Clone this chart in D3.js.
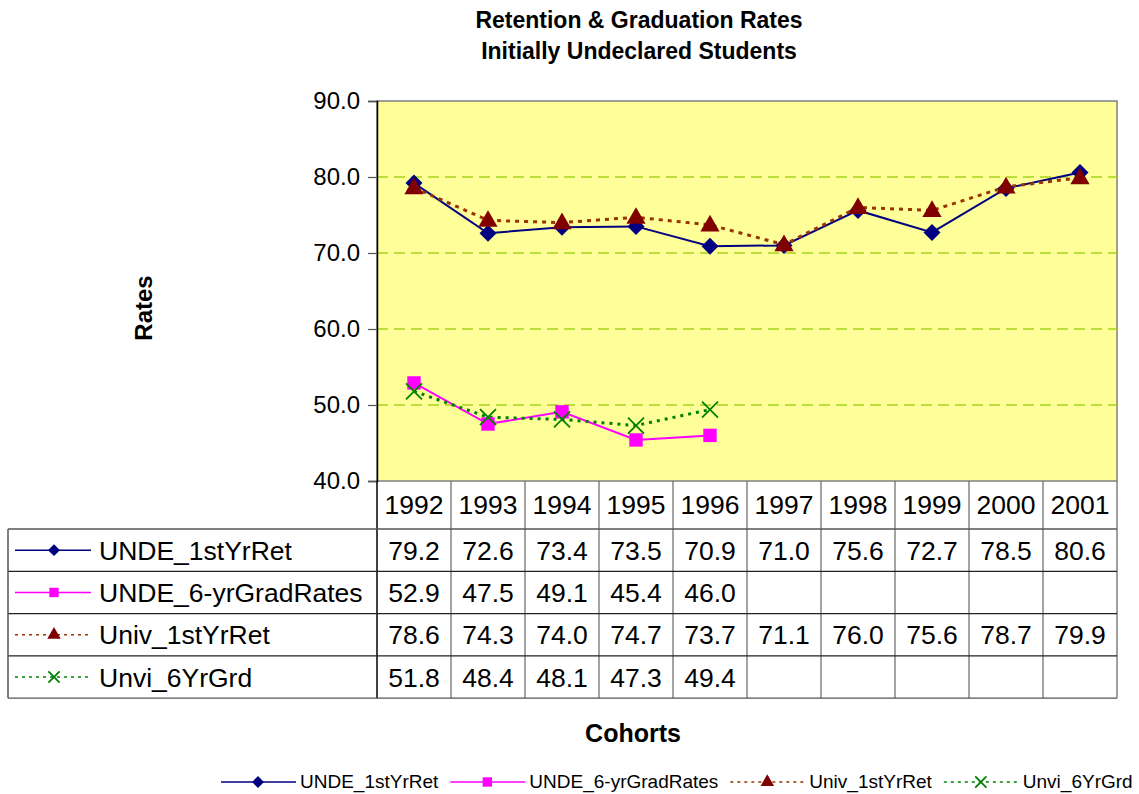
<!DOCTYPE html>
<html>
<head>
<meta charset="utf-8">
<script src="https://cdn.jsdelivr.net/npm/d3@7"></script>
<style>
  body { margin: 0; background: #fff; }
  svg { display: block; font-family: "Liberation Sans", Arial, sans-serif; }
</style>
</head>
<body>
<svg id="chart" width="1139" height="794"></svg>
<script>
/* data */
const cohorts = ['1992','1993','1994','1995','1996','1997','1998','1999','2000','2001'];
const undeRet  = [79.2, 72.6, 73.4, 73.5, 70.9, 71.0, 75.6, 72.7, 78.5, 80.6];
const undeGrad = [52.9, 47.5, 49.1, 45.4, 46.0, null, null, null, null, null];
const univRet  = [78.6, 74.3, 74.0, 74.7, 73.7, 71.1, 76.0, 75.6, 78.7, 79.9];
const univGrad = [51.8, 48.4, 48.1, 47.3, 49.4, null, null, null, null, null];
const yTicks = [40, 50, 60, 70, 80, 90];

const series = [
  { name: 'UNDE_1stYrRet',       values: undeRet,  line: '#000080', mark: '#000080', dash: null,  sym: 'diamond',         size: 8.5 },
  { name: 'UNDE_6-yrGradRates',  values: undeGrad, line: '#FF00FF', mark: '#FF00FF', dash: null,  sym: d3.symbolSquare,   size: 180 },
  { name: 'Univ_1stYrRet',       values: univRet,  line: '#993300', mark: '#800000', dash: '4,5', sym: d3.symbolTriangle, size: 160 },
  { name: 'Unvi_6YrGrd',         values: univGrad, line: '#008000', mark: '#008000', dash: '3,5', sym: 'x',              size: 8 }
];

const svg = d3.select('#chart');
const plot = { l: 377, r: 1117, t: 101, b: 481 };
const tableL = 8, rowH = 42.3, headB = 529;

const x = d3.scaleBand().domain(cohorts).range([plot.l, plot.r]);
const y = d3.scaleLinear().domain([40, 90]).range([plot.b, plot.t]);

/* titles */
const title = svg.append('g').attr('font-weight', 'bold').attr('font-size', 23).attr('text-anchor', 'middle');
title.append('text').attr('x', 639).attr('y', 28).text('Retention & Graduation Rates');
title.append('text').attr('x', 639).attr('y', 59).text('Initially Undeclared Students');

svg.append('text').attr('transform', 'translate(152,308) rotate(-90)')
  .attr('text-anchor', 'middle').attr('font-weight', 'bold').attr('font-size', 24).text('Rates');
svg.append('text').attr('x', 633).attr('y', 742)
  .attr('text-anchor', 'middle').attr('font-weight', 'bold').attr('font-size', 25).text('Cohorts');

/* plot area */
svg.append('rect').attr('x', plot.l).attr('y', plot.t)
  .attr('width', plot.r - plot.l).attr('height', plot.b - plot.t)
  .attr('fill', '#FFFF99').attr('stroke', '#808080').attr('stroke-width', 1.5);

svg.append('g').selectAll('line').data(yTicks.filter(t => t > 40 && t < 90)).join('line')
  .attr('x1', plot.l).attr('x2', plot.r).attr('y1', d => y(d)).attr('y2', d => y(d))
  .attr('stroke', '#A6D41C').attr('stroke-width', 1.5).attr('stroke-dasharray', '11,6');

/* y axis */
const yAxis = svg.append('g').attr('transform', `translate(${plot.l},0)`)
  .call(d3.axisLeft(y).tickValues(yTicks).tickFormat(d3.format('.1f')).tickSize(9).tickPadding(8));
yAxis.select('.domain').attr('stroke', '#000').attr('stroke-width', 1.5);
yAxis.selectAll('.tick line').attr('stroke', '#555').attr('stroke-width', 1.2);
yAxis.selectAll('.tick text').attr('font-size', 24).attr('fill', '#000')
  .attr('font-family', '"Liberation Sans", Arial, sans-serif');

/* lines + markers */
const line = d3.line().defined(d => d.v != null).x(d => x(d.c) + x.bandwidth() / 2).y(d => y(d.v));
function marker(sel, s, scale) {
  if (s.sym === 'x') {
    const h = s.size * scale;
    sel.append('path').attr('d', `M${-h},${-h}L${h},${h}M${-h},${h}L${h},${-h}`)
      .attr('stroke', s.mark).attr('stroke-width', 1.8).attr('fill', 'none');
  } else if (s.sym === 'diamond') {
    const h = s.size * scale;
    sel.append('path').attr('d', `M0,${-h}L${h},0L0,${h}L${-h},0Z`).attr('fill', s.mark);
  } else {
    sel.append('path').attr('d', d3.symbol(s.sym, s.size * scale * scale)()).attr('fill', s.mark);
  }
}

series.forEach(s => {
  const pts = cohorts.map((c, i) => ({ c, v: s.values[i] }));
  svg.append('path').datum(pts).attr('d', line).attr('fill', 'none')
    .attr('stroke', s.line).attr('stroke-width', s.dash ? 3 : 2)
    .attr('stroke-dasharray', s.dash);
});
series.forEach(s => {
  const pts = cohorts.map((c, i) => ({ c, v: s.values[i] })).filter(d => d.v != null);
  svg.append('g').selectAll('g').data(pts).join('g')
    .attr('transform', d => `translate(${x(d.c) + x.bandwidth() / 2},${y(d.v) + (s.sym === d3.symbolTriangle ? 1 : 0)})`)
    .each(function () { marker(d3.select(this), s, 1); });
});

/* data table */
const tbl = svg.append('g').attr('font-size', 26.5);
const tableB = headB + rowH * series.length;
// header row of cohorts
tbl.selectAll('.hd').data(cohorts).join('text').attr('class', 'hd')
  .attr('x', d => x(d) + x.bandwidth() / 2).attr('y', 514)
  .attr('text-anchor', 'middle').text(d => d);
// vertical column lines
tbl.selectAll('.vl').data(cohorts.slice(1)).join('line').attr('class', 'vl')
  .attr('x1', d => x(d)).attr('x2', d => x(d)).attr('y1', plot.b).attr('y2', tableB)
  .attr('stroke', '#666').attr('stroke-width', 1.2);
tbl.append('line').attr('x1', plot.l).attr('x2', plot.l).attr('y1', plot.b).attr('y2', tableB)
  .attr('stroke', '#000').attr('stroke-width', 1.5);
tbl.append('line').attr('x1', plot.r).attr('x2', plot.r).attr('y1', plot.b).attr('y2', tableB)
  .attr('stroke', '#808080').attr('stroke-width', 1.5);
// horizontal row lines
tbl.selectAll('.hl').data(d3.range(series.length + 1)).join('line').attr('class', 'hl')
  .attr('x1', tableL).attr('x2', plot.r)
  .attr('y1', i => headB + i * rowH).attr('y2', i => headB + i * rowH)
  .attr('stroke', i => (i === 0 || i === series.length) ? '#555' : '#222').attr('stroke-width', 1.3);
tbl.append('line').attr('x1', tableL).attr('x2', tableL).attr('y1', headB).attr('y2', tableB)
  .attr('stroke', '#555').attr('stroke-width', 1.5);

series.forEach((s, r) => {
  const cy = headB + rowH * (r + 0.5);
  const key = tbl.append('g');
  key.append('line').attr('x1', 15).attr('x2', 91).attr('y1', cy).attr('y2', cy)
    .attr('stroke', s.line).attr('stroke-width', 1.5).attr('stroke-dasharray', s.dash ? '3,4' : null);
  const m = key.append('g').attr('transform', `translate(54,${cy})`);
  marker(m, s, 0.7);
  tbl.append('text').attr('x', 99).attr('y', cy + 9.5).text(s.name);
  tbl.selectAll(null).data(s.values.map((v, i) => ({ v, c: cohorts[i] })).filter(d => d.v != null))
    .join('text').attr('x', d => x(d.c) + x.bandwidth() / 2).attr('y', cy + 9.5)
    .attr('text-anchor', 'middle').text(d => d.v.toFixed(1));
});

/* bottom legend */
const leg = svg.append('g').attr('font-size', 19);
let lx = 221;
const ly = 782;
series.forEach(s => {
  const g = leg.append('g');
  g.append('line').attr('x1', lx).attr('x2', lx + 75).attr('y1', ly).attr('y2', ly)
    .attr('stroke', s.line).attr('stroke-width', 1.5).attr('stroke-dasharray', s.dash ? '3,4' : null);
  const m = g.append('g').attr('transform', `translate(${lx + 37},${ly})`);
  marker(m, s, 0.7);
  const t = g.append('text').attr('x', lx + 79).attr('y', ly + 6).text(s.name);
  lx += 79 + t.node().getComputedTextLength() + 12;
});
</script>
</body>
</html>
